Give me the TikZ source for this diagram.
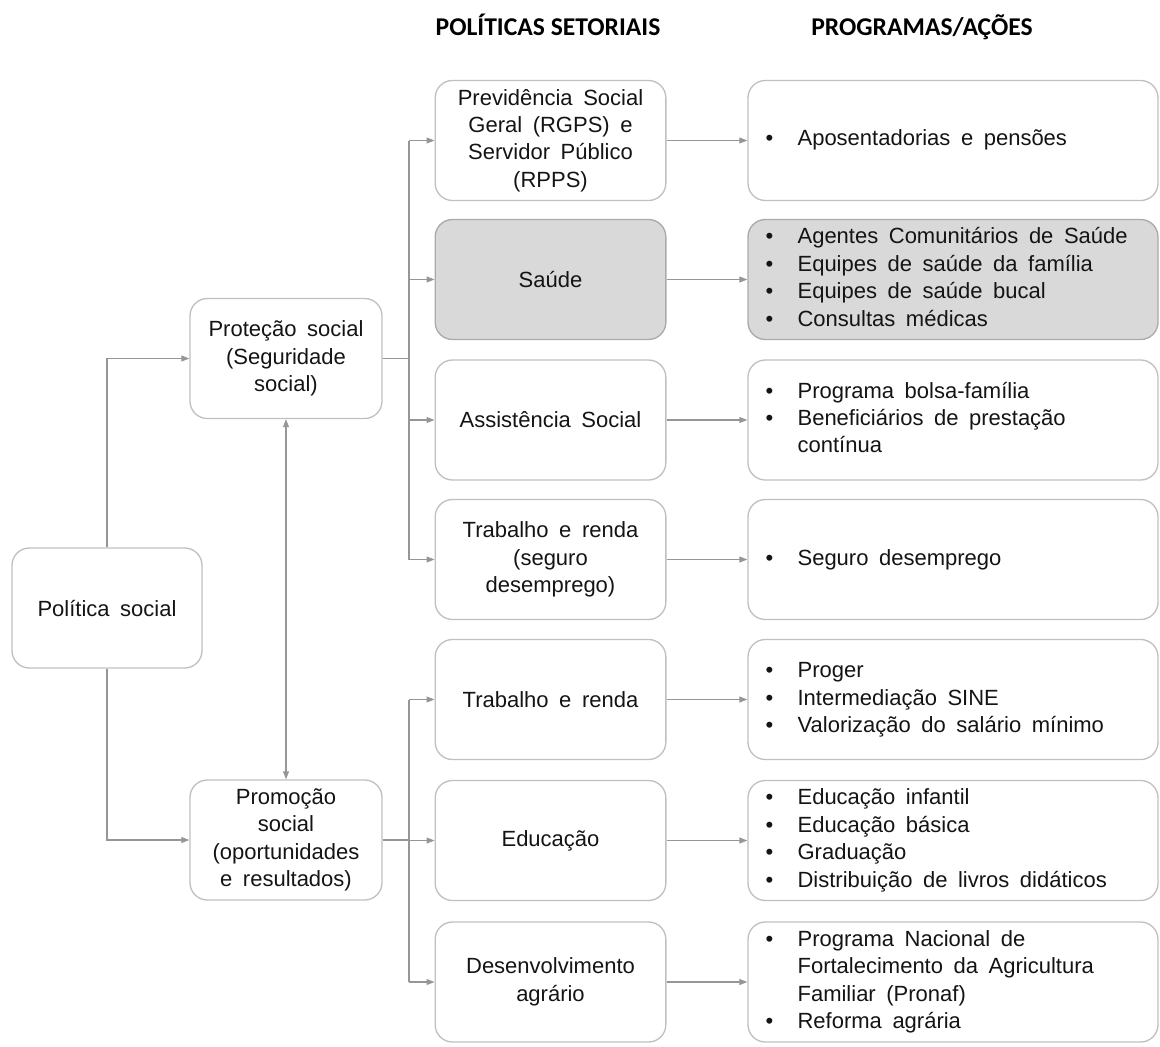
\documentclass[tikz,border=0pt]{standalone}
\usepackage{fontspec}
\setmainfont{Liberation Sans}
\newfontfamily\headfont{Carlito}
\usetikzlibrary{arrows.meta,calc}

\definecolor{boxline}{RGB}{192,192,192}
\definecolor{connline}{RGB}{150,150,150}
\definecolor{hlfill}{RGB}{217,217,217}
\definecolor{hlline}{RGB}{170,170,170}
\definecolor{ink}{RGB}{20,20,20}

% box text: wide word spacing as in the original layout
\newcommand\bxfont{\fontsize{16.5}{20.6}\selectfont\spaceskip=0.48em plus 0.1em\relax}
\newcommand\hdfont{\headfont\bfseries\fontsize{19.2}{22}\selectfont}

% bullet list for the programme boxes
\newenvironment{proglist}{\begin{tabular}{@{}p{24pt}@{}l@{}}}{\end{tabular}}
\newcommand\bul{\textbullet}

\begin{document}
\begin{tikzpicture}[x=0.75pt,y=-0.75pt,
  box/.style={draw=boxline, line width=1pt, rounded corners=13pt, align=center,
    font=\bxfont, text=ink, inner sep=0pt, minimum height=90pt},
  mainbox/.style={box, minimum width=142.5pt},
  axisbox/.style={box, minimum width=144pt},
  sectbox/.style={box, minimum width=173pt},
  progbox/.style={box, minimum width=307.5pt},
  hl/.style={fill=hlfill, draw=hlline},
  progtext/.style={anchor=west, inner sep=0pt, font=\bxfont, text=ink, align=left},
  head/.style={font=\hdfont, text=black, inner sep=0pt, anchor=base},
  conn/.style={draw=connline, line width=0.8pt},
  arr/.style={conn, -{Triangle[length=6pt,width=4.5pt]}},
  darr/.style={conn, {Triangle[length=6pt,width=4.5pt]}-{Triangle[length=6pt,width=4.5pt]}}
]
\useasboundingbox (0,0) rectangle (1160,1046);

% column headings
\node[head] (hsect) at (548,35) {POLÍTICAS SETORIAIS};
\node[head] (hprog) at (922,35) {PROGRAMAS/AÇÕES};

% left side
\node[mainbox] (pol) at (107,608) {Política social};
\node[axisbox] (prot) at (286,358.5) {Proteção social\\(Seguridade\\social)};
\node[axisbox] (prom) at (286,840) {Promoção\\social\\(oportunidades\\e resultados)};

% sector policies
\node[sectbox] (s1) at (550.5,140.5) {Previdência Social\\Geral (RGPS) e\\Servidor Público\\(RPPS)};
\node[sectbox,hl] (s2) at (550.5,279.5) {Saúde};
\node[sectbox] (s3) at (550.5,420) {Assistência Social};
\node[sectbox] (s4) at (550.5,559.5) {Trabalho e renda\\(seguro\\desemprego)};
\node[sectbox] (s5) at (550.5,699.5) {Trabalho e renda};
\node[sectbox] (s6) at (550.5,840.5) {Educação};
\node[sectbox] (s7) at (550.5,982) {Desenvolvimento\\agrário};

% programmes / actions
\node[progbox] (p1) at (953,140.5) {};
\node[progbox,hl] (p2) at (953,279.5) {};
\node[progbox] (p3) at (953,420) {};
\node[progbox] (p4) at (953,559.5) {};
\node[progbox] (p5) at (953,699.5) {};
\node[progbox] (p6) at (953,840.5) {};
\node[progbox] (p7) at (953,982) {};

\node[progtext] (t1) at ($(p1.west)+(18,0)$) {\begin{proglist}\bul & Aposentadorias e pensões\end{proglist}};
\node[progtext] (t2) at ($(p2.west)+(18,0)$) {\begin{proglist}
  \bul & Agentes Comunitários de Saúde\\
  \bul & Equipes de saúde da família\\
  \bul & Equipes de saúde bucal\\
  \bul & Consultas médicas\end{proglist}};
\node[progtext] (t3) at ($(p3.west)+(18,0)$) {\begin{proglist}
  \bul & Programa bolsa-família\\
  \bul & Beneficiários de prestação\\
       & contínua\end{proglist}};
\node[progtext] (t4) at ($(p4.west)+(18,0)$) {\begin{proglist}\bul & Seguro desemprego\end{proglist}};
\node[progtext] (t5) at ($(p5.west)+(18,0)$) {\begin{proglist}
  \bul & Proger\\
  \bul & Intermediação SINE\\
  \bul & Valorização do salário mínimo\end{proglist}};
\node[progtext] (t6) at ($(p6.west)+(18,0)$) {\begin{proglist}
  \bul & Educação infantil\\
  \bul & Educação básica\\
  \bul & Graduação\\
  \bul & Distribuição de livros didáticos\end{proglist}};
\node[progtext] (t7) at ($(p7.west)+(18,0)$) {\begin{proglist}
  \bul & Programa Nacional de\\
       & Fortalecimento da Agricultura\\
       & Familiar (Pronaf)\\
  \bul & Reforma agrária\end{proglist}};

% bus lines towards the sector policies
\coordinate (busA) at (409,358.5);
\coordinate (busB) at (409,840);

% connectors
\draw[arr] (pol.north) |- (prot.west);
\draw[arr] (pol.south) |- (prom.west);
\draw[darr] (prot.south) -- (prom.north);

\draw[conn] (prot.east) -- (busA);
\draw[conn] (busA |- s1.west) -- (busA |- s4.west);
\foreach \s in {s1,s2,s3,s4} \draw[arr] (busA |- \s.west) -- (\s.west);

\draw[conn] (prom.east) -- (busB);
\draw[conn] (busB |- s5.west) -- (busB |- s7.west);
\foreach \s in {s5,s6,s7} \draw[arr] (busB |- \s.west) -- (\s.west);

\foreach \i in {1,...,7} \draw[arr] (s\i.east) -- (p\i.west);
\end{tikzpicture}
\end{document}
